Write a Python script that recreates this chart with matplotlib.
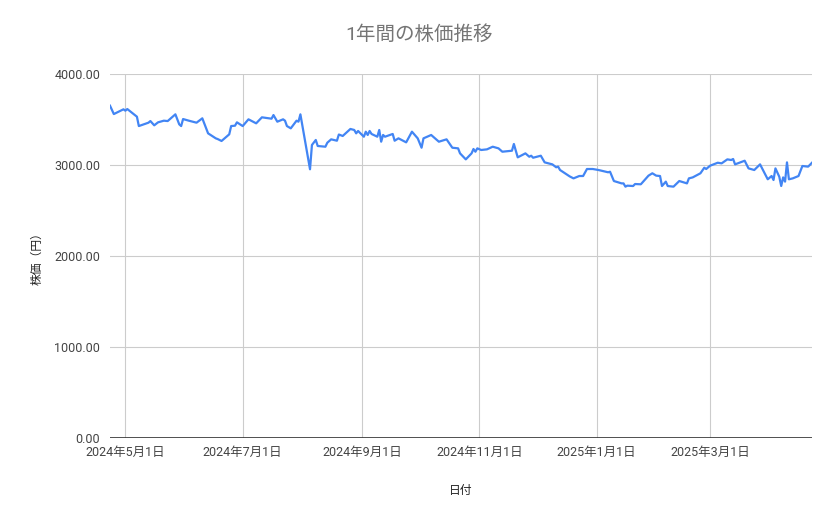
import pandas as pd
import matplotlib.pyplot as plt
from matplotlib.ticker import FuncFormatter

plt.rcParams['font.family'] = ['Roboto', 'Noto Sans CJK JP', 'DejaVu Sans']

# Price data
dates = [
    "2024-04-23", "2024-04-25", "2024-04-30", "2024-05-01", "2024-05-02", "2024-05-07", "2024-05-08",
    "2024-05-13", "2024-05-14", "2024-05-16", "2024-05-18", "2024-05-21", "2024-05-23", "2024-05-27",
    "2024-05-29", "2024-05-30", "2024-05-31", "2024-06-03", "2024-06-07", "2024-06-10", "2024-06-13",
    "2024-06-17", "2024-06-18", "2024-06-20", "2024-06-24", "2024-06-25", "2024-06-27", "2024-06-28",
    "2024-07-01", "2024-07-04", "2024-07-08", "2024-07-11", "2024-07-16", "2024-07-17", "2024-07-19",
    "2024-07-22", "2024-07-23", "2024-07-24", "2024-07-26", "2024-07-29", "2024-07-30", "2024-07-31",
    "2024-08-05", "2024-08-06", "2024-08-08", "2024-08-09", "2024-08-13", "2024-08-14", "2024-08-16",
    "2024-08-19", "2024-08-20", "2024-08-22", "2024-08-26", "2024-08-28", "2024-08-29", "2024-08-30",
    "2024-09-02", "2024-09-03", "2024-09-04", "2024-09-05", "2024-09-06", "2024-09-09", "2024-09-10",
    "2024-09-11", "2024-09-12", "2024-09-13", "2024-09-17", "2024-09-18", "2024-09-20", "2024-09-24",
    "2024-09-27", "2024-09-30", "2024-10-02", "2024-10-03", "2024-10-07", "2024-10-09", "2024-10-11",
    "2024-10-15", "2024-10-18", "2024-10-21", "2024-10-22", "2024-10-25", "2024-10-28", "2024-10-29",
    "2024-10-30", "2024-10-31", "2024-11-02", "2024-11-05", "2024-11-08", "2024-11-11", "2024-11-13",
    "2024-11-18", "2024-11-19", "2024-11-21", "2024-11-25", "2024-11-27", "2024-11-28", "2024-11-29",
    "2024-12-03", "2024-12-05", "2024-12-09", "2024-12-11", "2024-12-12", "2024-12-13", "2024-12-18",
    "2024-12-20", "2024-12-23", "2024-12-25", "2024-12-27", "2024-12-30", "2025-01-02", "2025-01-07",
    "2025-01-08", "2025-01-10", "2025-01-14", "2025-01-15", "2025-01-16", "2025-01-17", "2025-01-20",
    "2025-01-21", "2025-01-24", "2025-01-28", "2025-01-30", "2025-02-01", "2025-02-03", "2025-02-04",
    "2025-02-06", "2025-02-07", "2025-02-10", "2025-02-13", "2025-02-17", "2025-02-18", "2025-02-20",
    "2025-02-24", "2025-02-26", "2025-02-27", "2025-03-01", "2025-03-05", "2025-03-07", "2025-03-10",
    "2025-03-12", "2025-03-13", "2025-03-14", "2025-03-19", "2025-03-21", "2025-03-24", "2025-03-27",
    "2025-03-31", "2025-04-02", "2025-04-03", "2025-04-04", "2025-04-06", "2025-04-07", "2025-04-08",
    "2025-04-09", "2025-04-10", "2025-04-11", "2025-04-13", "2025-04-15", "2025-04-16", "2025-04-18",
    "2025-04-21", "2025-04-23",
]
prices = [
    3652, 3560, 3612, 3597, 3615, 3531, 3428,
    3465, 3483, 3436, 3469, 3487, 3483, 3557,
    3447, 3428, 3505, 3487, 3465, 3513, 3348,
    3293, 3285, 3264, 3337, 3428, 3432, 3469,
    3428, 3502, 3458, 3524, 3509, 3549, 3476,
    3502, 3487, 3428, 3403, 3487, 3476, 3557,
    2953, 3220, 3275, 3209, 3201, 3245, 3282,
    3267, 3335, 3319, 3396, 3385, 3348, 3374,
    3311, 3366, 3330, 3374, 3341, 3311, 3385,
    3256, 3330, 3311, 3341, 3267, 3293, 3249,
    3366, 3293, 3190, 3293, 3330, 3293, 3256,
    3282, 3190, 3183, 3128, 3062, 3128, 3176,
    3146, 3183, 3165, 3172, 3201, 3183, 3146,
    3157, 3231, 3084, 3128, 3091, 3102, 3080,
    3102, 3029, 3007, 2975, 2982, 2945, 2875,
    2853, 2879, 2879, 2956, 2956, 2945, 2920,
    2926, 2824, 2798, 2798, 2762, 2773, 2769,
    2791, 2788, 2883, 2909, 2883, 2879, 2769,
    2817, 2769, 2762, 2824, 2798, 2853, 2864,
    2909, 2970, 2956, 2992, 3025, 3018, 3062,
    3055, 3066, 3007, 3047, 2963, 2945, 3007,
    2843, 2879, 2835, 2963, 2871, 2769, 2864,
    2817, 3029, 2843, 2853, 2871, 2879, 2989,
    2982, 3025,
]
tick_dates = ["2024-05-01", "2024-07-01", "2024-09-01", "2024-11-01", "2025-01-01", "2025-03-01"]
tick_labels = ["2024年5月1日", "2024年7月1日", "2024年9月1日", "2024年11月1日", "2025年1月1日", "2025年3月1日"]
y_ticks = [0, 1000, 2000, 3000, 4000]

data = pd.DataFrame({'date': pd.to_datetime(dates), 'price': prices})

fig = plt.figure(figsize=(8.39, 5.19), dpi=100)
ax = fig.add_axes([0.1311, 0.1561, 0.8367, 0.7013])

ax.plot(data['date'], data['price'], color='#4285F4', linewidth=1.6)

ax.set_xlim(pd.Timestamp("2024-04-23"), pd.Timestamp("2025-04-23"))
ax.set_ylim(0, 4000)
ax.set_xticks(pd.to_datetime(tick_dates))
ax.set_xticklabels(tick_labels)
ax.set_yticks(y_ticks)
ax.yaxis.set_major_formatter(FuncFormatter(lambda v, p: f"{v:.2f}"))

ax.grid(True, color='#cccccc', linewidth=0.8)
ax.set_axisbelow(True)
ax.axhline(0, color='#333333', linewidth=1.2)
for s in ax.spines.values():
    s.set_visible(False)
ax.tick_params(axis='both', length=0, labelsize=9, labelcolor='#444444')
ax.tick_params(axis='x', pad=6)
ax.tick_params(axis='y', pad=7)

fig.suptitle("1年間の株価推移", x=0.5, y=0.952, fontsize=14, color='#757575')
ax.set_xlabel("日付", fontsize=8.5, color='#222222', labelpad=18)
ax.set_ylabel("株価（円）", fontsize=8.5, color='#222222', labelpad=8)

plt.savefig("out.png", dpi=100)
